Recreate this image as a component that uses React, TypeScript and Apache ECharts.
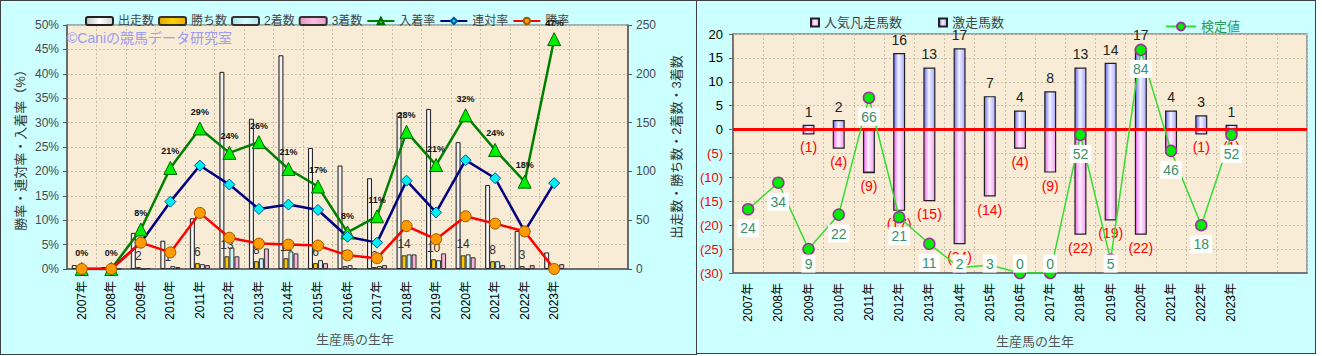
import React, { useEffect, useRef } from 'react';
import * as echarts from 'echarts';

// ---------- data ----------
const years = ['2007年', '2008年', '2009年', '2010年', '2011年', '2012年', '2013年', '2014年', '2015年', '2016年', '2017年', '2018年', '2019年', '2020年', '2021年', '2022年', '2023年'];
const emptySlots = ['', ''];

// left chart
const runners = [4, 2, 37, 29, 52, 202, 154, 219, 124, 106, 93, 160, 164, 130, 86, 39, 17];
const wins = [0, 0, 2, 1, 6, 13, 8, 11, 6, 3, 2, 14, 10, 14, 8, 3, 0];
const seconds = [0, 0, 0, 3, 5, 22, 11, 18, 9, 4, 3, 15, 9, 15, 8, 0, 3];
const thirds = [0, 0, 1, 2, 4, 13, 21, 16, 6, 1, 4, 15, 16, 12, 4, 4, 5];
const placeRate = [0, 0, 8.1, 20.7, 28.8, 23.8, 26.0, 20.5, 16.9, 7.5, 10.8, 28.1, 21.3, 31.5, 24.4, 17.9, 47.1];
const quinellaRate = [0, 0, 5.4, 13.8, 21.2, 17.3, 12.3, 13.2, 12.1, 6.6, 5.4, 18.1, 11.6, 22.3, 18.6, 7.7, 17.6];
const winRate = [0, 0, 5.4, 3.4, 11.5, 6.4, 5.2, 5.0, 4.8, 2.8, 2.2, 8.8, 6.1, 10.8, 9.3, 7.7, 0];

// right chart
const upsetRunners = [0, 0, 1, 2, 0, 16, 13, 17, 7, 4, 8, 13, 14, 17, 4, 3, 1];
const favouriteFailures = [0, 0, -1, -4, -9, -17, -15, -24, -14, -4, -9, -22, -19, -22, -5, -1, -1];
const testValue = [24, 34, 9, 22, 66, 21, 11, 2, 3, 0, 0, 52, 5, 84, 46, 18, 52];

const leftPctTicks = { min: 0, max: 50, interval: 5 };
const leftCountTicks = { min: 0, max: 250, interval: 50 };
const rightCountTicks = { min: -30, max: 20, interval: 5 };
const testAxis = { min: 0, max: 90 };

const FONT = 'Arial, "Liberation Sans", "Noto Sans CJK JP", sans-serif';

const hGrad = (stops: [number, string][]) =>
  new echarts.graphic.LinearGradient(0, 0, 1, 0, stops.map(([offset, color]) => ({ offset, color })));

const splitStyle = { color: '#cbbfa8', width: 1, type: [2, 2] as any };

const RIGHT_GRID = { left: 733, top: 34, width: 574, height: 239 };

export default function App() {
  const ref = useRef<HTMLDivElement>(null);

  useEffect(() => {
    document.body.style.margin = '0';
    const chart = echarts.init(ref.current!, null, { renderer: 'svg' });
    const cats = [...years, ...emptySlots];
    const plotBottom = RIGHT_GRID.top + RIGHT_GRID.height;

    const option: any = {
      animation: false,
      textStyle: { fontFamily: FONT },
      graphic: [
        {
          type: 'text',
          left: 67,
          top: 31,
          z: 10,
          style: { text: '©Caniの競馬データ研究室', fill: '#9c9cf0', fontSize: 14, fontFamily: FONT },
        },
      ],
      legend: [
        {
          left: 80,
          top: 10,
          itemWidth: 27,
          itemHeight: 8,
          itemGap: 4,
          textStyle: { fontSize: 12, color: '#444', fontFamily: FONT },
          data: [
            { name: '出走数', icon: 'roundRect' },
            { name: '勝ち数', icon: 'roundRect' },
            { name: '2着数', icon: 'roundRect' },
            { name: '3着数', icon: 'roundRect' },
            '入着率',
            '連対率',
            '勝率',
          ],
        },
        {
          left: 805,
          top: 11,
          itemWidth: 8,
          itemHeight: 8,
          itemGap: 36,
          textStyle: { fontSize: 13, color: '#444', fontFamily: FONT },
          data: [
            { name: '人気凡走馬数', icon: 'rect' },
            { name: '激走馬数', icon: 'rect' },
          ],
        },
        {
          left: 1160,
          top: 15,
          itemWidth: 30,
          itemHeight: 10,
          textStyle: { fontSize: 13, color: '#2e9a5a', fontFamily: FONT },
          data: ['検定値'],
        },
      ],
      grid: [
        { left: 67, top: 25, width: 561, height: 244, show: true, backgroundColor: '#f8ecd6', borderColor: '#666', borderWidth: 1 },
        { ...RIGHT_GRID, show: true, backgroundColor: '#f8ecd6', borderColor: '#888', borderWidth: 1.5 },
      ],
      xAxis: [
        {
          type: 'category',
          gridIndex: 0,
          data: cats,
          boundaryGap: true,
          axisLine: { lineStyle: { color: '#555', width: 1.5 } },
          axisTick: { show: false },
          axisLabel: { rotate: 90, color: '#000', fontSize: 12, margin: 12, interval: 0 },
          splitLine: { show: true, interval: 0, lineStyle: splitStyle },
          name: '生産馬の生年',
          nameLocation: 'middle',
          nameGap: 64,
          nameTextStyle: { fontSize: 13, color: '#555', padding: [0, 0, 0, 15] },
        },
        {
          type: 'category',
          gridIndex: 1,
          data: cats,
          boundaryGap: true,
          axisLine: { onZero: false, lineStyle: { color: '#666', width: 1.5 } },
          axisTick: { show: false },
          axisLabel: { rotate: 90, color: '#000', fontSize: 12, margin: 10, interval: 0 },
          splitLine: { show: true, interval: 0, lineStyle: splitStyle },
          name: '生産馬の生年',
          nameLocation: 'middle',
          nameGap: 62,
          nameTextStyle: { fontSize: 13, color: '#555', padding: [0, 0, 0, 30] },
        },
      ],
      yAxis: [
        {
          type: 'value',
          gridIndex: 0,
          position: 'left',
          ...leftPctTicks,
          axisLine: { show: true, lineStyle: { color: '#555', width: 1.5 } },
          axisTick: { show: true, length: 4 },
          axisLabel: { formatter: '{value}%', color: '#4a4a4a', fontSize: 12, margin: 8 },
          splitLine: { show: true, lineStyle: splitStyle },
          name: '勝率・連対率・入着率（%）',
          nameLocation: 'middle',
          nameRotate: 90,
          nameGap: 40,
          nameTextStyle: { fontSize: 13, color: '#333' },
        },
        {
          type: 'value',
          gridIndex: 0,
          position: 'right',
          ...leftCountTicks,
          axisLine: { show: true, lineStyle: { color: '#555', width: 1.5 } },
          axisTick: { show: true, length: 4 },
          axisLabel: { color: '#4a4a4a', fontSize: 12, margin: 8 },
          splitLine: { show: false },
          name: '出走数・勝ち数・2着数・3着数',
          nameLocation: 'middle',
          nameRotate: 90,
          nameGap: 42,
          nameTextStyle: { fontSize: 13, color: '#333' },
        },
        {
          type: 'value',
          gridIndex: 1,
          position: 'left',
          ...rightCountTicks,
          axisLine: { show: true, lineStyle: { color: '#666', width: 1.5 } },
          axisTick: { show: true, length: 4 },
          axisLabel: {
            fontSize: 13,
            margin: 10,
            formatter: (v: number) => (v < 0 ? `(${-v})` : `${v}`),
            color: (v: any) => (Number(v) < 0 ? '#ff0000' : '#000'),
          },
          splitLine: { show: true, lineStyle: splitStyle },
        },
        {
          type: 'value',
          gridIndex: 1,
          ...testAxis,
          show: false,
          splitLine: { show: false },
        },
      ],
      series: [
        {
          name: '出走数',
          type: 'bar',
          xAxisIndex: 0,
          yAxisIndex: 1,
          barWidth: 5,
          barGap: '0%',
          data: runners,
          itemStyle: {
            color: hGrad([[0, '#bdbdbd'], [0.5, '#ffffff'], [1, '#d0d0d0']]),
            borderColor: '#222',
            borderWidth: 1,
          },
        },
        {
          name: '勝ち数',
          type: 'bar',
          xAxisIndex: 0,
          yAxisIndex: 1,
          barWidth: 5,
          barGap: '0%',
          data: wins,
          itemStyle: {
            color: hGrad([[0, '#e0a800'], [0.5, '#ffd000'], [1, '#e8b000']]),
            borderColor: '#333',
            borderWidth: 1,
          },
          label: {
            show: true,
            position: 'top',
            distance: 5,
            fontSize: 12,
            color: '#333',
            formatter: (p: any) => (p.value > 0 ? `${p.value}` : ''),
          },
        },
        {
          name: '2着数',
          type: 'bar',
          xAxisIndex: 0,
          yAxisIndex: 1,
          barWidth: 5,
          barGap: '0%',
          data: seconds,
          itemStyle: {
            color: hGrad([[0, '#a8e4ec'], [0.5, '#d8fafc'], [1, '#b0e8f0']]),
            borderColor: '#333',
            borderWidth: 1,
          },
        },
        {
          name: '3着数',
          type: 'bar',
          xAxisIndex: 0,
          yAxisIndex: 1,
          barWidth: 5,
          barGap: '0%',
          data: thirds,
          itemStyle: {
            color: hGrad([[0, '#e890c4'], [0.5, '#f8bede'], [1, '#ec9ccc']]),
            borderColor: '#333',
            borderWidth: 1,
          },
        },
        {
          name: '入着率',
          type: 'line',
          xAxisIndex: 0,
          yAxisIndex: 0,
          data: placeRate,
          symbol: 'triangle',
          symbolSize: 13,
          lineStyle: { color: '#008000', width: 2.5 },
          itemStyle: { color: '#00ee00', borderColor: '#006400', borderWidth: 1 },
          label: {
            show: true,
            position: 'top',
            distance: 5,
            fontSize: 9,
            fontWeight: 'bold',
            color: '#111',
            formatter: (p: any) => `${Math.round(p.value)}%`,
          },
          z: 4,
        },
        {
          name: '連対率',
          type: 'line',
          xAxisIndex: 0,
          yAxisIndex: 0,
          data: quinellaRate,
          symbol: 'diamond',
          symbolSize: 11,
          lineStyle: { color: '#000080', width: 2.5 },
          itemStyle: { color: '#00f0f0', borderColor: '#0050a0', borderWidth: 1 },
          z: 4,
        },
        {
          name: '勝率',
          type: 'line',
          xAxisIndex: 0,
          yAxisIndex: 0,
          data: winRate,
          symbol: 'circle',
          symbolSize: 11,
          lineStyle: { color: '#ff0000', width: 2.5 },
          itemStyle: { color: '#ff9a00', borderColor: '#9a5a00', borderWidth: 1 },
          z: 4,
        },
        {
          name: '人気凡走馬数',
          type: 'bar',
          xAxisIndex: 1,
          yAxisIndex: 2,
          stack: 'count',
          barWidth: 12,
          data: favouriteFailures,
          itemStyle: {
            color: hGrad([[0, '#ee66ee'], [0.45, '#fff0ff'], [1, '#f0a0f0']]),
            borderColor: '#222',
            borderWidth: 1.2,
          },
          label: {
            show: true,
            position: 'bottom',
            distance: 6,
            fontSize: 14,
            color: '#ff0000',
            formatter: (p: any) => (p.value < 0 ? `(${-p.value})` : ''),
          },
        },
        {
          name: '激走馬数',
          type: 'bar',
          xAxisIndex: 1,
          yAxisIndex: 2,
          stack: 'count',
          barWidth: 12,
          data: upsetRunners,
          itemStyle: {
            color: hGrad([[0, '#6a6af5'], [0.45, '#f4f4ff'], [1, '#a8a8ff']]),
            borderColor: '#222',
            borderWidth: 1.2,
          },
          label: {
            show: true,
            position: 'top',
            distance: 6,
            fontSize: 14,
            color: '#222',
            formatter: (p: any) => (p.value > 0 ? `${p.value}` : ''),
          },
          markLine: {
            silent: true,
            symbol: 'none',
            label: { show: false },
            lineStyle: { color: '#ff0000', width: 3, type: 'solid' },
            data: [{ yAxis: 0 }],
          },
        },
        {
          name: '検定値',
          type: 'line',
          xAxisIndex: 1,
          yAxisIndex: 3,
          z: 6,
          symbol: 'circle',
          symbolSize: 11,
          lineStyle: { color: '#33dd33', width: 1.5 },
          itemStyle: { color: '#00ee00', borderColor: '#993399', borderWidth: 1.5 },
          label: {
            show: true,
            position: 'inside',
            fontSize: 14,
            color: '#3a9068',
            backgroundColor: '#ffffff',
            padding: [2, 3],
          },
          // label sits ~19px below the marker, but is kept inside the plot area
          labelLayout: (params: any) => {
            const r = params.rect;
            const cy = r.y + r.height / 2;
            const target = Math.min(cy + 19, plotBottom - 9.4);
            return { dy: target - cy };
          },
          data: testValue,
        },
      ],
    };

    chart.setOption(option);
    return () => chart.dispose();
  }, []);

  return (
    <div style={{ position: 'relative', width: 1322, height: 356, background: '#ffffff' }}>
      <div
        style={{
          position: 'absolute',
          left: 0,
          top: 0,
          width: 697,
          height: 355,
          boxSizing: 'border-box',
          border: '1px solid #404040',
          background: '#ccffff',
        }}
      />
      <div
        style={{
          position: 'absolute',
          left: 696,
          top: 0,
          width: 620,
          height: 354,
          boxSizing: 'border-box',
          border: '1px solid #404040',
          background: '#ccffff',
        }}
      />
      <div ref={ref} style={{ position: 'absolute', left: 0, top: 0, width: 1322, height: 356 }} />
    </div>
  );
}
